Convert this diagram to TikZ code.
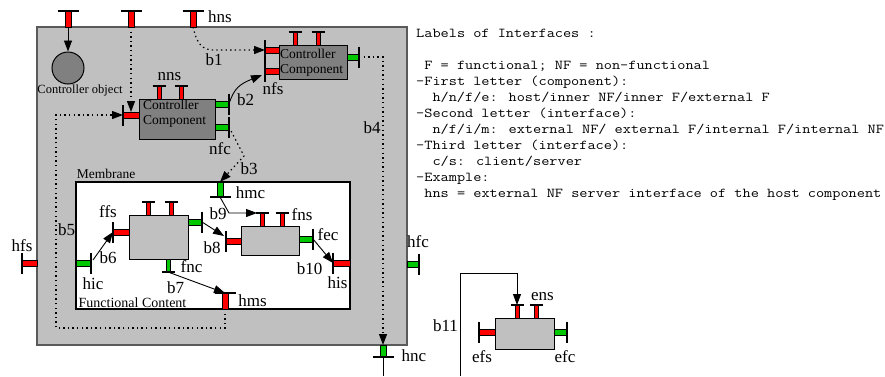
\documentclass[tikz,border=0pt]{standalone}
\usepackage{fontspec}
\usepackage{graphicx}
\setmainfont{Liberation Serif}
\usetikzlibrary{arrows.meta,calc}

\definecolor{hostgray}{HTML}{C0C0C0}
\definecolor{ccgray}{HTML}{808080}
\definecolor{pred}{HTML}{FF0000}
\definecolor{pgreen}{HTML}{00C800}
\definecolor{hostline}{HTML}{5A5A5A}

\newcommand{\legtext}[1]{\scalebox{1.165}[1]{\ttfamily\fontsize{13.6}{16}\selectfont #1}}

\tikzset{
 portstem/.style={draw=black, line width=0.6pt},
 bigbar/.style={line width=2.4pt},
 smallbar/.style={line width=1.8pt},
 lbl/.style={font=\rmfamily\fontsize{17}{17}\selectfont, inner sep=0pt},
 smalltext/.style={font=\rmfamily\fontsize{12.5}{15}\selectfont, inner sep=0pt},
 cctext/.style={font=\rmfamily\fontsize{13.5}{15}\selectfont, inner sep=0pt, anchor=west, align=left},
 legend/.style={anchor=base west, inner sep=0pt},
 hostbox/.style={draw=hostline, fill=hostgray, line width=1.5pt, inner sep=0pt},
 innerbox/.style={draw=black, fill=white, line width=1.2pt, inner sep=0pt},
 ccbox/.style={draw=black, fill=ccgray, line width=0.9pt, inner sep=0pt},
 fbox/.style={draw=black, fill=hostgray, line width=0.9pt, inner sep=0pt},
 dotline/.style={line width=1.2pt, dash pattern=on 1.4pt off 3.2pt},
 arr/.style={-{Triangle[length=11pt,width=8pt]}},
 solidline/.style={line width=0.9pt},
}

% large port: name, x, y, angle, colour, length
\newcommand{\Port}[6]{%
  \begin{scope}[shift={(#2,#3)}, rotate=#4]
    \draw[portstem, fill=#5] (0,-3) rectangle (#6,3);
    \draw[bigbar] (#6,-10.5) -- (#6,10.5);
    \coordinate (#1) at (#6,0);
    \coordinate (#1-b) at (0,0);
    \coordinate (#1-m) at (#6/2,0);
  \end{scope}}
% small port
\newcommand{\SPort}[6]{%
  \begin{scope}[shift={(#2,#3)}, rotate=#4]
    \draw[portstem, fill=#5] (0,-2.2) rectangle (#6,2.2);
    \draw[smallbar] (#6,-6.5) -- (#6,6.5);
    \coordinate (#1) at (#6,0);
    \coordinate (#1-b) at (0,0);
  \end{scope}}

\begin{document}
\begin{tikzpicture}[x=1pt, y=-1pt]
\useasboundingbox (0,0) rectangle (885,376);

% host component
\node[hostbox, minimum width=370pt, minimum height=318pt] (host) at (222,186) {};
\node[innerbox, minimum width=274pt, minimum height=127pt] (inner) at (213,245.5) {};

% controller object
\node[circle, draw=black, fill=ccgray, line width=1pt, minimum size=32pt, inner sep=0pt] (cobj) at (68,68) {};
\node[smalltext] (cobjl) at (80,90.5) {Controller object};

% controller components
\node[ccbox, minimum width=76pt, minimum height=40pt] (ccA) at (177,119) {};
\node[cctext] (ccAt) at (143,113.5) {Controller\\Component};
\node[ccbox, minimum width=68pt, minimum height=34pt] (ccB) at (313,62) {};
\node[cctext] (ccBt) at (280,63) {Controller\\Component};

% functional components
\node[fbox, minimum width=59pt, minimum height=44pt] (fA) at (158.5,237) {};
\node[fbox, minimum width=58pt, minimum height=29pt] (fB) at (270,240.5) {};
\node[fbox, minimum width=59pt, minimum height=31pt] (eC) at (524.5,333.5) {};

% host ports
\Port{hco}{68}{27}{90}{pred}{16}
\Port{hnsB}{131}{27}{90}{pred}{16}
\Port{hns}{193}{27}{90}{pred}{16}
\Port{hfs}{37}{263}{180}{pred}{15}
\Port{hfc}{407}{264}{0}{pgreen}{12}
\Port{hnc}{383}{345}{-90}{pgreen}{12}

% controller component ports
\Port{ccAl}{139}{115}{180}{pred}{16}
\SPort{ccAt1}{159}{99}{90}{pred}{13}
\SPort{ccAt2}{181}{99}{90}{pred}{13}
\Port{ccAr1}{215}{104}{0}{pgreen}{14}
\Port{ccAr2}{215}{127}{0}{pgreen}{14}
\Port{ccBl1}{279}{50}{180}{pred}{14}
\Port{ccBl2}{279}{71}{180}{pred}{14}
\SPort{ccBt1}{295}{45}{90}{pred}{13}
\SPort{ccBt2}{318}{45}{90}{pred}{13}
\Port{ccBr}{347}{57}{0}{pgreen}{12}

% membrane / inner ports
\Port{hmc}{220}{182}{-90}{pgreen}{15}
\Port{hms}{225}{309}{90}{pred}{16}
\Port{hic}{76}{263}{0}{pgreen}{15}
\Port{his}{350}{263}{180}{pred}{17}

% functional component ports
\Port{ffs}{129}{232}{180}{pred}{16}
\SPort{fAt1}{148}{215}{90}{pred}{13}
\SPort{fAt2}{171}{215}{90}{pred}{13}
\Port{fAr}{188}{222}{0}{pgreen}{14}
\SPort{fnc}{168}{259}{-90}{pgreen}{13}
\Port{fBl}{241}{241}{180}{pred}{15}
\SPort{fBt1}{262}{226}{90}{pred}{13}
\SPort{fBt2}{282}{226}{90}{pred}{13}
\Port{fBr}{299}{239}{0}{pgreen}{14}

% external component ports
\Port{efs}{495}{332}{180}{pred}{16}
\Port{efc}{554}{332}{0}{pgreen}{13}
\SPort{eT1}{517}{318}{90}{pred}{13}
\SPort{eT2}{536}{318}{90}{pred}{13}

% helper coordinates
\coordinate (b5c) at (56,328);
\coordinate (b11s) at (460,376);
\coordinate (b11c) at (460,273);
\coordinate (hncend) at (383,376);

% connectors
\draw[solidline, arr] (hco-b) -- (cobj.north);
\draw[dotline, arr] (hnsB-b) -- ($(ccAl-m)+(0,-3)$);
\draw[dotline, arr] (hns-b) .. controls (197,44) and (202,50) .. (214,50) -- (ccBl1);
\draw[solidline, arr] (ccAr1) .. controls (234,88) and (240,84) .. ($(ccBl2)+(-3,4)$);
\draw[dotline, arr] (ccAr2) -- (244,156) -- (hmc-b);
\draw[dotline, arr] (ccBr) -| (hnc-b);
\draw[dotline, arr] (hms-b) |- (b5c) |- (ccAl);
\draw[solidline, arr] ($(hic)+(2,-3)$) -- (ffs);
\draw[solidline, arr] (fnc) -- (hms);
\draw[solidline, arr] (fAr) -- ($(fBl)+(-2,-5)$);
\draw[solidline, arr] (hmc) -- (229,213) -- ($(fBt1)+(-5,0)$);
\draw[solidline, arr] (fBr) -- (his);
\draw[solidline, arr] (b11s) -- (b11c) -| (eT1);
\draw[solidline] (hnc) -- (hncend);

% labels
\node[lbl] (l-hns) at (220,17) {hns};
\node[lbl] (l-b1) at (214,60) {b1};
\node[lbl] (l-nns) at (169.5,77) {nns};
\node[lbl] (l-b2) at (245.5,100) {b2};
\node[lbl] (l-nfs) at (273,89) {nfs};
\node[lbl] (l-nfc) at (220,148.5) {nfc};
\node[lbl] (l-b3) at (249,169) {b3};
\node[lbl] (l-b4) at (372,128) {b4};
\node[smalltext, font=\rmfamily\fontsize{13.5}{15}\selectfont] (l-mem) at (106,174) {Membrane};
\node[lbl] (l-hmc) at (250.5,193) {hmc};
\node[lbl] (l-b9) at (218,214) {b9};
\node[lbl] (l-fns) at (302,214.5) {fns};
\node[lbl] (l-ffs) at (108,212) {ffs};
\node[lbl] (l-b5) at (66.5,230) {b5};
\node[lbl] (l-fec) at (328,234.5) {fec};
\node[lbl] (l-b8) at (212,248) {b8};
\node[lbl] (l-b6) at (108,258) {b6};
\node[lbl] (l-hfs) at (22,245.5) {hfs};
\node[lbl] (l-fnc) at (191.5,267) {fnc};
\node[lbl] (l-b10) at (309.5,268.5) {b10};
\node[lbl] (l-hic) at (93,284) {hic};
\node[lbl] (l-his) at (337.5,282.5) {his};
\node[lbl] (l-b7) at (175.5,287.5) {b7};
\node[lbl] (l-hms) at (252.5,300.5) {hms};
\node[smalltext, font=\rmfamily\fontsize{14}{15}\selectfont] (l-fc) at (132.5,303) {Functional Content};
\node[lbl] (l-hfc) at (418,242) {hfc};
\node[lbl] (l-hnc) at (414,356) {hnc};
\node[lbl] (l-b11) at (445.5,326) {b11};
\node[lbl] (l-ens) at (542.5,297) {ens};
\node[lbl] (l-efs) at (482,357) {efs};
\node[lbl] (l-efc) at (565,357) {efc};

% legend
\node[legend] (g1) at (416,37) {\legtext{Labels of Interfaces :}};
\node[legend] (g2) at (424.2,69) {\legtext{F = functional; NF = non-functional}};
\node[legend] (g3) at (416,85) {\legtext{-First letter (component):}};
\node[legend] (g4) at (432.3,101) {\legtext{h/n/f/e: host/inner NF/inner F/external F}};
\node[legend] (g5) at (416,117) {\legtext{-Second letter (interface):}};
\node[legend] (g6) at (432.3,133) {\legtext{n/f/i/m: external NF/ external F/internal F/internal NF}};
\node[legend] (g7) at (416,149) {\legtext{-Third letter (interface):}};
\node[legend] (g8) at (432.3,165) {\legtext{c/s: client/server}};
\node[legend] (g9) at (416,181) {\legtext{-Example:}};
\node[legend] (g10) at (424.2,197) {\legtext{hns = external NF server interface of the host component}};
\end{tikzpicture}
\end{document}
